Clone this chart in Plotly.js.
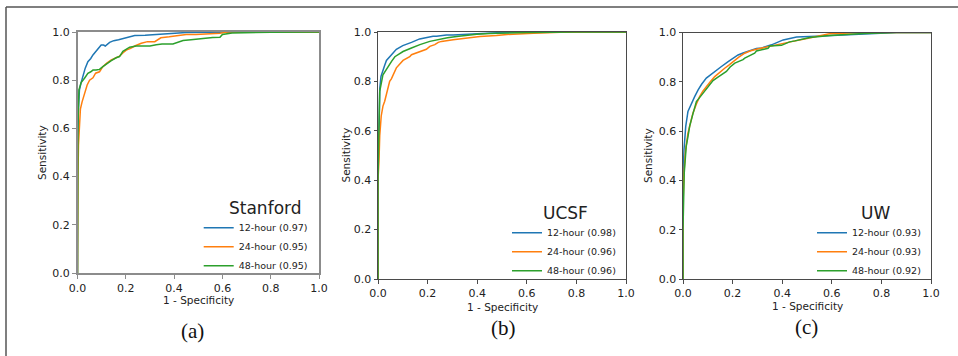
<!DOCTYPE html>
<html>
<head>
<meta charset="utf-8">
<script src="https://cdn.plot.ly/plotly-3.0.1.min.js"></script>
<style>html,body{margin:0;padding:0;background:#fff;}#chart{width:958px;height:356px;}</style>
</head>
<body>
<div id="chart"></div>
<script>
// ---------- data ----------
const tickVals = [0, 0.2, 0.4, 0.6, 0.8, 1.0];
const tickLabels = ["0.0", "0.2", "0.4", "0.6", "0.8", "1.0"];
const panelNames = ["Stanford", "UCSF", "UW"];
const panelLetters = ["(a)", "(b)", "(c)"];
const seriesNames = ["12-hour", "24-hour", "48-hour"];
const aucStanford = [0.97, 0.95, 0.95];
const aucUCSF = [0.98, 0.96, 0.96];
const aucUW = [0.93, 0.93, 0.92];

// Stanford
const stanford12x = [0, 0, 0.004, 0.008, 0.015, 0.022, 0.032, 0.043, 0.055, 0.064, 0.075, 0.084, 0.098, 0.108, 0.115, 0.133, 0.15, 0.17, 0.195, 0.215, 0.237, 0.28, 0.326, 0.37, 0.395, 0.423, 0.45, 0.55, 0.7, 0.85, 1.0];
const stanford12y = [0, 0.5, 0.68, 0.76, 0.79, 0.815, 0.85, 0.877, 0.89, 0.905, 0.918, 0.933, 0.946, 0.946, 0.942, 0.957, 0.964, 0.968, 0.975, 0.979, 0.985, 0.986, 0.989, 0.99, 0.994, 0.995, 0.998, 0.999, 1.0, 1.0, 1.0];
const stanford24x = [0, 0, 0.002, 0.004, 0.008, 0.012, 0.019, 0.03, 0.04, 0.05, 0.064, 0.075, 0.091, 0.105, 0.12, 0.14, 0.155, 0.174, 0.19, 0.202, 0.22, 0.237, 0.264, 0.29, 0.32, 0.33, 0.345, 0.38, 0.423, 0.45, 0.49, 0.53, 0.59, 0.62, 0.8, 1.0];
const stanford24y = [0, 0.2, 0.4, 0.53, 0.63, 0.68, 0.71, 0.75, 0.78, 0.8, 0.81, 0.829, 0.835, 0.856, 0.87, 0.884, 0.89, 0.9, 0.915, 0.925, 0.932, 0.942, 0.953, 0.96, 0.96, 0.967, 0.976, 0.98, 0.988, 0.99, 0.99, 0.992, 0.995, 1.0, 1.0, 1.0];
const stanford48x = [0, 0, 0.002, 0.006, 0.015, 0.029, 0.043, 0.055, 0.064, 0.077, 0.091, 0.105, 0.12, 0.14, 0.16, 0.174, 0.188, 0.2, 0.216, 0.243, 0.27, 0.3, 0.326, 0.35, 0.395, 0.423, 0.437, 0.47, 0.5, 0.56, 0.59, 0.6, 0.64, 0.7, 0.8, 1.0];
const stanford48y = [0, 0.45, 0.62, 0.76, 0.79, 0.808, 0.829, 0.835, 0.842, 0.842, 0.845, 0.856, 0.868, 0.881, 0.893, 0.898, 0.92, 0.928, 0.937, 0.942, 0.942, 0.942, 0.947, 0.95, 0.95, 0.958, 0.965, 0.968, 0.972, 0.977, 0.978, 0.99, 0.996, 0.998, 0.999, 1.0];

// UCSF
const ucsf12x = [0, 0, 0.004, 0.007, 0.012, 0.02, 0.027, 0.034, 0.047, 0.054, 0.074, 0.1, 0.128, 0.135, 0.168, 0.182, 0.222, 0.236, 0.276, 0.303, 0.344, 0.411, 0.52, 0.7, 1.0];
const ucsf12y = [0, 0.45, 0.59, 0.77, 0.82, 0.85, 0.865, 0.885, 0.901, 0.91, 0.93, 0.945, 0.958, 0.958, 0.972, 0.975, 0.983, 0.983, 0.988, 0.988, 0.99, 0.995, 0.999, 1.0, 1.0];
const ucsf24x = [0, 0, 0.004, 0.007, 0.013, 0.02, 0.027, 0.034, 0.047, 0.054, 0.074, 0.101, 0.128, 0.135, 0.155, 0.169, 0.195, 0.209, 0.229, 0.243, 0.256, 0.303, 0.357, 0.411, 0.478, 0.52, 0.627, 0.735, 0.85, 1.0];
const ucsf24y = [0, 0.4, 0.48, 0.58, 0.66, 0.7, 0.72, 0.745, 0.8, 0.81, 0.855, 0.885, 0.9, 0.908, 0.915, 0.921, 0.93, 0.942, 0.949, 0.958, 0.962, 0.969, 0.976, 0.982, 0.986, 0.99, 0.995, 0.999, 1.0, 1.0];
const ucsf48x = [0, 0, 0.004, 0.007, 0.02, 0.04, 0.054, 0.068, 0.085, 0.101, 0.135, 0.169, 0.209, 0.249, 0.28, 0.317, 0.36, 0.398, 0.45, 0.52, 0.6, 0.8, 1.0];
const ucsf48y = [0, 0.4, 0.62, 0.76, 0.827, 0.861, 0.88, 0.9, 0.912, 0.921, 0.935, 0.949, 0.962, 0.972, 0.977, 0.982, 0.988, 0.991, 0.994, 0.996, 0.998, 1.0, 1.0];

// UW
const uw12x = [0, 0, 0.004, 0.011, 0.02, 0.034, 0.047, 0.061, 0.075, 0.094, 0.115, 0.135, 0.155, 0.182, 0.2, 0.222, 0.245, 0.269, 0.296, 0.317, 0.357, 0.404, 0.458, 0.538, 0.6, 0.646, 0.75, 0.86, 1.0];
const uw12y = [0, 0.4, 0.524, 0.619, 0.68, 0.713, 0.74, 0.767, 0.79, 0.815, 0.832, 0.848, 0.862, 0.882, 0.895, 0.909, 0.918, 0.927, 0.935, 0.937, 0.95, 0.97, 0.982, 0.985, 0.988, 0.992, 0.996, 1.0, 1.0];
const uw24x = [0, 0, 0.004, 0.01, 0.02, 0.03, 0.04, 0.054, 0.067, 0.08, 0.094, 0.11, 0.128, 0.148, 0.168, 0.185, 0.202, 0.225, 0.249, 0.27, 0.296, 0.33, 0.37, 0.438, 0.5, 0.59, 0.727, 1.0];
const uw24y = [0, 0.3, 0.43, 0.52, 0.592, 0.635, 0.673, 0.71, 0.74, 0.762, 0.781, 0.8, 0.821, 0.84, 0.855, 0.868, 0.882, 0.9, 0.916, 0.925, 0.932, 0.94, 0.95, 0.963, 0.976, 0.995, 1.0, 1.0];
const uw48x = [0, 0, 0.005, 0.013, 0.02, 0.027, 0.04, 0.054, 0.074, 0.101, 0.121, 0.135, 0.155, 0.175, 0.19, 0.209, 0.242, 0.249, 0.289, 0.296, 0.343, 0.35, 0.397, 0.43, 0.451, 0.511, 0.592, 0.727, 0.86, 1.0];
const uw48y = [0, 0.2, 0.43, 0.538, 0.578, 0.62, 0.67, 0.72, 0.745, 0.781, 0.805, 0.815, 0.83, 0.842, 0.86, 0.876, 0.89, 0.896, 0.916, 0.925, 0.936, 0.945, 0.948, 0.962, 0.966, 0.98, 0.988, 0.996, 1.0, 1.0];

// ---------- build ----------
const W = 958, H = 356;
const px = v => v / W;
const py = v => 1 - v / H;
const colors = ["#1f77b4", "#ff7f0e", "#2ca02c"];
const FONT = "DejaVu Sans, Verdana, sans-serif";

const panels = [
  { xs: [stanford12x, stanford24x, stanford48x], ys: [stanford12y, stanford24y, stanford48y], auc: aucStanford },
  { xs: [ucsf12x, ucsf24x, ucsf48x], ys: [ucsf12y, ucsf24y, ucsf48y], auc: aucUCSF },
  { xs: [uw12x, uw24x, uw48x], ys: [uw12y, uw24y, uw48y], auc: aucUW }
];

// pixel geometry per panel
const geom = [
  { l: 77.5, r: 319, t: 32, b: 273, line: "#8c8c8c", lw: 2,
    legX: 198.7, legY: 246.7, titleX: 265, titleY: 208,
    xtX: 198, xtY: 300, ytX: 42, ytY: 153, letX: 192, letY: 331 },
  { l: 378, r: 626, t: 32, b: 279, line: "#4a4a4a", lw: 1,
    legX: 507, legY: 251.7, titleX: 565, titleY: 213,
    xtX: 502, xtY: 306.5, ytX: 345, ytY: 155.5, letX: 503, letY: 328 },
  { l: 683, r: 931, t: 32.5, b: 279, line: "#4a4a4a", lw: 1,
    legX: 812, legY: 251.7, titleX: 875, titleY: 213,
    xtX: 807.5, xtY: 306, ytX: 648, ytY: 156, letX: 806, letY: 327 }
];

const traces = [];
const layout = {
  width: W, height: H,
  margin: { l: 0, r: 0, t: 0, b: 0 },
  paper_bgcolor: "#ffffff", plot_bgcolor: "#ffffff",
  font: { family: FONT, color: "#222" },
  showlegend: true,
  annotations: [],
  shapes: [
    { type: "line", xref: "paper", yref: "paper", x0: px(6), x1: px(958), y0: py(7), y1: py(7), line: { color: "#555", width: 1.5 } },
    { type: "line", xref: "paper", yref: "paper", x0: px(6), x1: px(6), y0: py(7), y1: py(356), line: { color: "#555", width: 1.5 } }
  ]
};

panels.forEach((p, i) => {
  const g = geom[i];
  const sfx = i === 0 ? "" : String(i + 1);
  const legName = "legend" + sfx;
  for (let k = 0; k < 3; k++) {
    traces.push({
      type: "scatter", mode: "lines",
      x: p.xs[k], y: p.ys[k],
      name: seriesNames[k] + " (" + p.auc[k].toFixed(2) + ")",
      line: { color: colors[k], width: 1.5 },
      xaxis: "x" + sfx, yaxis: "y" + sfx,
      legend: legName, hoverinfo: "skip"
    });
  }
  const axCommon = {
    range: [0, 1], tickvals: tickVals, ticktext: tickLabels,
    ticks: "outside", ticklen: 3.5, tickwidth: 1, tickcolor: g.line,
    showline: true, linecolor: g.line, linewidth: g.lw, mirror: true,
    showgrid: false, zeroline: false, fixedrange: true,
    tickfont: { family: FONT, size: 11, color: "#222" }
  };
  layout["xaxis" + sfx] = Object.assign({}, axCommon, {
    domain: [px(g.l), px(g.r)], anchor: "y" + sfx
  });
  layout["yaxis" + sfx] = Object.assign({}, axCommon, {
    domain: [py(g.b), py(g.t)], anchor: "x" + sfx
  });
  layout[legName] = {
    x: px(g.legX), xanchor: "left", y: py(g.legY), yanchor: "middle",
    bgcolor: "rgba(0,0,0,0)", borderwidth: 0, tracegroupgap: 0,
    font: { family: FONT, size: 9.5, color: "#222" }
  };
  const ann = (text, x, y, size, extra) => Object.assign({
    text: text, xref: "paper", yref: "paper", x: px(x), y: py(y),
    xanchor: "center", yanchor: "middle", showarrow: false,
    font: { family: FONT, size: size, color: "#222" }
  }, extra || {});
  layout.annotations.push(ann(panelNames[i], g.titleX, g.titleY, 17));
  layout.annotations.push(ann("1 - Specificity", g.xtX, g.xtY, 10.5));
  layout.annotations.push(ann("Sensitivity", g.ytX, g.ytY, 10.5, { textangle: -90 }));
  layout.annotations.push(ann(panelLetters[i], g.letX, g.letY, 21,
    { font: { family: "Liberation Serif, Times New Roman, serif", size: 21, color: "#111" } }));
});

Plotly.newPlot("chart", traces, layout, { staticPlot: true, displayModeBar: false });
</script>
</body>
</html>
